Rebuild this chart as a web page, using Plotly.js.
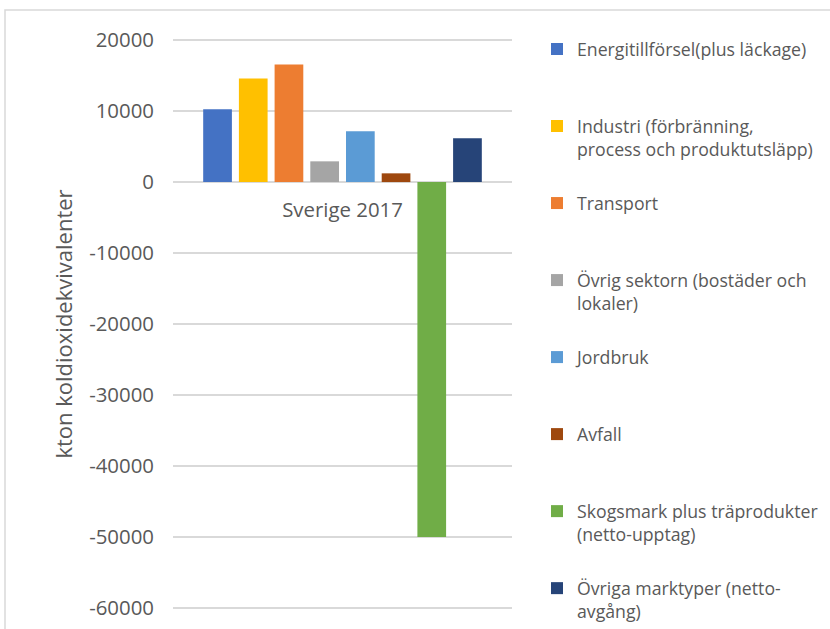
<!DOCTYPE html>
<html>
<head>
<meta charset="utf-8">
<script src="https://cdn.plot.ly/plotly-3.0.1.min.js"></script>
<style>html,body{margin:0;padding:0;background:#fff}#chart{width:830px;height:629px}</style>
</head>
<body>
<div id="chart"></div>
<script>
var category = ['Sverige 2017'];
var seriesNames = [
  'Energitillförsel(plus läckage)',
  'Industri (förbränning,<br>process och produktutsläpp)',
  'Transport',
  'Övrig sektorn (bostäder och<br>lokaler)',
  'Jordbruk',
  'Avfall',
  'Skogsmark plus träprodukter<br>(netto-upptag)',
  'Övriga marktyper (netto-<br>avgång)'
];
var seriesValues = [10250, 14600, 16580, 2920, 7150, 1230, -50000, 6160];
var seriesColors = ['#4472C4', '#FFC000', '#ED7D31', '#A5A5A5', '#5B9BD5', '#9E480E', '#70AD47', '#264478'];
var yTickVals = [20000, 10000, 0, -10000, -20000, -30000, -40000, -50000, -60000];
var yTickText = ['20000', '10000', '0', '-10000', '-20000', '-30000', '-40000', '-50000', '-60000'];

var FONT = 'Open Sans, Liberation Sans, sans-serif';
var traces = seriesNames.map(function (name, i) {
  var label = name.indexOf('<br>') >= 0 ? name : name + '<br> ';
  return {
    type: 'bar',
    name: label,
    x: category,
    y: [seriesValues[i]],
    marker: {color: seriesColors[i]},
    legendgroup: 'g' + i,
    hoverinfo: 'y'
  };
});

var L = 173, T = 38, W = 339, H = 572;
var layout = {
  width: 830, height: 629,
  margin: {l: L, r: 830 - L - W, t: T, b: 629 - T - H, autoexpand: false},
  paper_bgcolor: '#ffffff', plot_bgcolor: '#ffffff',
  font: {family: FONT, color: '#595959'},
  barmode: 'group',
  bargap: 0.1575,
  bargroupgap: 0.196,
  showlegend: true,
  legend: {
    x: (537 - L) / W, xanchor: 'left',
    y: 1 + (T - 31) / H, yanchor: 'top',
    font: {family: FONT, size: 17.7, color: '#595959'},
    valign: 'top',
    tracegroupgap: 28,
    maxheight: 800,
    bgcolor: 'rgba(0,0,0,0)',
    borderwidth: 0
  },
  xaxis: {
    type: 'category',
    anchor: 'free',
    position: 0.7447,
    showgrid: false, showline: false, zeroline: false,
    ticks: '',
    tickfont: {family: FONT, size: 20.4, color: '#595959'},
    ticklabelstandoff: 12,
    fixedrange: true
  },
  yaxis: {
    range: [-60300, 20300],
    tickvals: yTickVals,
    ticktext: yTickText,
    showgrid: true, gridcolor: '#d9d9d9', gridwidth: 1.5,
    zeroline: true, zerolinecolor: '#d9d9d9', zerolinewidth: 1.5,
    showline: false, ticks: '',
    tickfont: {family: FONT, size: 20.4, color: '#595959'},
    ticklabelstandoff: 18,
    title: {text: 'kton koldioxidekvivalenter', font: {family: FONT, size: 22, color: '#595959'}, standoff: 10},
    fixedrange: true
  },
  shapes: [{
    type: 'rect', xref: 'paper', yref: 'paper',
    x0: (5 - L) / W, x1: (840 - L) / W,
    y0: -(640 - T - H) / H, y1: 1 + (T - 10) / H,
    line: {color: '#d9d9d9', width: 1.5},
    fillcolor: 'rgba(0,0,0,0)',
    layer: 'below'
  }]
};

Plotly.newPlot('chart', traces, layout, {staticPlot: true, displayModeBar: false});
</script>
</body>
</html>
